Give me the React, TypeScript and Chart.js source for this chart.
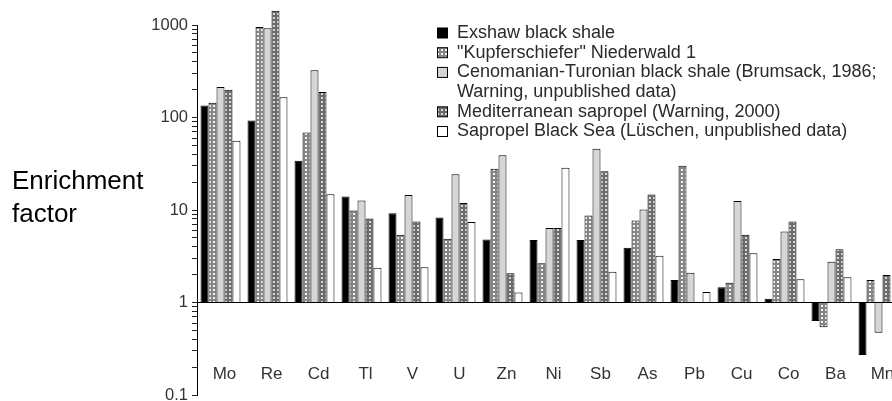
import React, { useEffect, useRef } from 'react';
import { Chart, registerables } from 'chart.js';

Chart.register(...registerables);

const FONT = '"Liberation Sans", Arial, Helvetica, sans-serif';

const categories = ['Mo', 'Re', 'Cd', 'Tl', 'V', 'U', 'Zn', 'Ni', 'Sb', 'As', 'Pb', 'Cu', 'Co', 'Ba', 'Mn'];

const exshaw = [135, 93, 34, 14, 9.2, 8.3, 4.8, 4.75, 4.75, 3.9, 1.75, 1.46, 1.1, 0.63, 0.27];
const kupferschiefer = [144, 950, 69, 9.9, 5.4, 4.9, 28, 2.65, 8.7, 7.7, 30, 1.63, 2.95, 0.54, 1.75];
const cenomanian = [214, 920, 324, 12.7, 14.5, 24.4, 39, 6.4, 46, 10.1, 2.1, 12.5, 5.85, 2.76, 0.47];
const mediterranean = [200, 1430, 189, 8.1, 7.5, 11.9, 2.07, 6.4, 26.3, 14.7, null, 5.4, 7.5, 3.77, 1.98];
const blackSea = [56, 166, 14.8, 2.37, 2.4, 7.4, 1.28, 28.6, 2.15, 3.2, 1.3, 3.4, 1.78, 1.87, null];

const legendLines = [
  ['Exshaw black shale'],
  ['"Kupferschiefer" Niederwald 1'],
  ['Cenomanian-Turonian black shale (Brumsack, 1986;', 'Warning, unpublished data)'],
  ['Mediterranean sapropel (Warning, 2000)'],
  ['Sapropel Black Sea (Lüschen, unpublished data)'],
];

const yTitleLines = ['Enrichment', 'factor'];
const yMajorTicks = [0.1, 1, 10, 100, 1000];
const baseValue = 1;

function buildYTicks(): number[] {
  const out: number[] = [];
  for (let i = 0; i < yMajorTicks.length - 1; i++) {
    const d = yMajorTicks[i];
    out.push(d);
    for (let m = 2; m <= 9; m++) out.push(+(m * d).toPrecision(6));
  }
  out.push(yMajorTicks[yMajorTicks.length - 1]);
  return out;
}

function makePattern(bg: string, dot: string, size: number, dotSize: number): CanvasPattern | string {
  const c = document.createElement('canvas');
  c.width = size;
  c.height = size;
  const g = c.getContext('2d');
  if (!g) return bg;
  g.fillStyle = bg;
  g.fillRect(0, 0, size, size);
  g.fillStyle = dot;
  g.fillRect(1, 1, dotSize, dotSize);
  return g.createPattern(c, 'repeat') || bg;
}

export default function App() {
  const ref = useRef<HTMLCanvasElement | null>(null);

  useEffect(() => {
    if (!ref.current) return;
    Chart.defaults.font.family = FONT;

    const fills: any[] = [
      '#000000',
      makePattern('#858585', '#f4f4f4', 4, 2),
      '#d6d6d6',
      makePattern('#6a6a6a', '#d8d8d8', 4, 2),
      '#ffffff',
    ];
    const series = [exshaw, kupferschiefer, cenomanian, mediterranean, blackSea];

    const overlay = {
      id: 'overlay',
      afterDraw(chart: any) {
        const ctx = chart.ctx as CanvasRenderingContext2D;
        ctx.save();
        // y axis title
        ctx.fillStyle = '#000';
        ctx.font = `26px ${FONT}`;
        ctx.textAlign = 'left';
        ctx.textBaseline = 'alphabetic';
        yTitleLines.forEach((t, i) => ctx.fillText(t, 12, 189 + i * 33));
        // legend
        ctx.font = `18px ${FONT}`;
        ctx.textBaseline = 'middle';
        let y = 33;
        const step = 19.7;
        legendLines.forEach((lines, i) => {
          ctx.fillStyle = fills[i];
          ctx.fillRect(437.5, y - 5, 10, 10);
          ctx.strokeStyle = '#000';
          ctx.lineWidth = 1;
          ctx.strokeRect(437.5, y - 5, 10, 10);
          ctx.fillStyle = '#2a2a2a';
          lines.forEach((ln) => {
            ctx.fillText(ln, 457, y);
            y += step;
          });
        });
        ctx.restore();
      },
    };

    const chart = new Chart(ref.current, {
      type: 'bar',
      data: {
        labels: categories,
        datasets: series.map((d, i) => ({
          label: legendLines[i].join(' '),
          data: d as any,
          backgroundColor: fills[i],
          borderColor: '#000',
          borderWidth: 1,
          base: baseValue,
          clip: false as any,
          categoryPercentage: 0.85,
          barPercentage: 1,
        })),
      },
      options: {
        animation: false,
        responsive: false,
        devicePixelRatio: 1,
        layout: { padding: { left: 0, right: 0, top: 25, bottom: 6 } },
        plugins: {
          legend: { display: false },
          tooltip: { enabled: false },
        },
        scales: {
          x: {
            type: 'category',
            position: { y: baseValue } as any,
            offset: true,
            afterFit: (s: any) => {
              s.height = 0;
              s.paddingLeft = 0;
              s.paddingRight = 0;
            },
            grid: { display: false, drawTicks: false },
            border: { display: true, color: '#000', width: 1 },
            ticks: {
              padding: 62,
              labelOffset: 4,
              color: '#333',
              font: { size: 17, family: FONT },
              maxRotation: 0,
              minRotation: 0,
              autoSkip: false,
            },
          },
          y: {
            type: 'logarithmic',
            min: 0.1,
            max: 1000,
            afterFit: (s: any) => {
              s.width = 197;
              s.paddingTop = 0;
              s.paddingBottom = 0;
            },
            afterBuildTicks: (s: any) => {
              s.ticks = buildYTicks().map((v) => ({ value: v }));
            },
            ticks: {
              autoSkip: false,
              padding: 4,
              color: '#333',
              font: { size: 16.5, family: FONT },
              callback: (v: any) => (yMajorTicks.includes(Number(v)) ? String(v) : ''),
            },
            grid: {
              drawOnChartArea: false,
              tickColor: '#222',
              tickLength: 5,
              lineWidth: 1,
            },
            border: { display: true, color: '#000', width: 1 },
          },
        },
      },
      plugins: [overlay],
    });

    return () => chart.destroy();
  }, []);

  return (
    <div
      style={{
        position: 'fixed',
        left: 0,
        top: 0,
        width: 892,
        height: 401,
        overflow: 'hidden',
        background: '#fff',
      }}
    >
      <canvas ref={ref} width={902} height={401} style={{ display: 'block' }} />
    </div>
  );
}
